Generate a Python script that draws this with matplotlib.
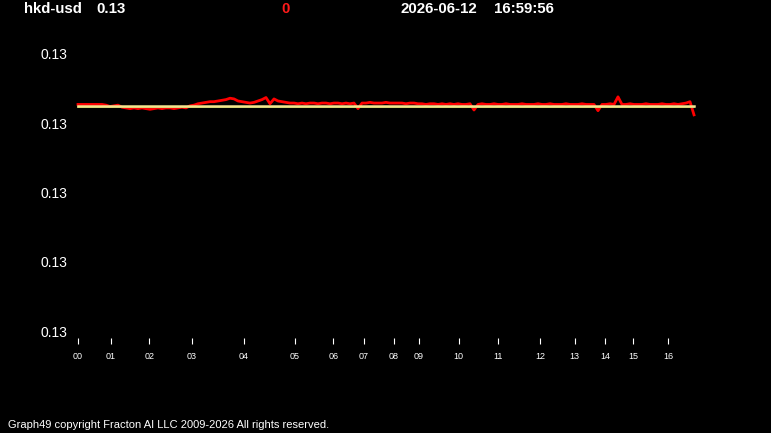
import matplotlib
matplotlib.use("Agg")
import matplotlib.pyplot as plt
from matplotlib.ticker import FormatStrFormatter
import numpy as np

# header info
symbol = "hkd-usd"
last_price = "0.13"
change = "0"
stamp_date = "2026-06-12"
stamp_time = "16:59:56"

# red price trace, one sample per slot
prices = [
    0.127727, 0.127727, 0.127727, 0.127727, 0.127727, 0.127727, 0.127727,  # 78-102
    0.127726, 0.127724, 0.127725, 0.127726, 0.127723,                      # 106-122
    0.127722, 0.127721, 0.127722, 0.127721, 0.127722, 0.127721, 0.127720, 0.127721,
    0.127722, 0.127721, 0.127722, 0.127722, 0.127721, 0.127722, 0.127723, 0.127722,  # 126-186
    0.127725, 0.127726, 0.127728, 0.127729, 0.127730, 0.127731, 0.127731, 0.127732,
    0.127733, 0.127734, 0.127736,                                          # 190-230
    0.127735, 0.127732, 0.127731, 0.127730, 0.127729, 0.127730, 0.127732, 0.127734,  # 234-262
    0.127737, 0.127728, 0.127735, 0.127732, 0.127731, 0.127730, 0.127729,  # 266-290
    0.127729, 0.127728, 0.127729, 0.127728, 0.127729, 0.127729, 0.127728, 0.127729,
    0.127729, 0.127728, 0.127729, 0.127729, 0.127728, 0.127729, 0.127728, 0.127729,  # 294-354
    0.127721,                                                              # 358
    0.127729, 0.127729, 0.127730, 0.127729, 0.127729, 0.127729, 0.127730, 0.127729,
    0.127729, 0.127729, 0.127729, 0.127728, 0.127729, 0.127729, 0.127728,  # 362-418
    0.127728, 0.127727, 0.127728, 0.127728, 0.127727, 0.127728, 0.127727, 0.127728,
    0.127727, 0.127728, 0.127727, 0.127727, 0.127728,                      # 422-470
    0.127719,                                                              # 474
    0.127727, 0.127728, 0.127727, 0.127727, 0.127728, 0.127727, 0.127727, 0.127728,
    0.127727, 0.127727, 0.127727, 0.127728, 0.127727, 0.127727, 0.127727, 0.127728,
    0.127727, 0.127727, 0.127728, 0.127727, 0.127727, 0.127727, 0.127728, 0.127727,
    0.127727, 0.127727, 0.127728, 0.127727, 0.127727, 0.127727,            # 478-594
    0.127718,                                                              # 598
    0.127727, 0.127727, 0.127728, 0.127727,                                # 602-614
    0.127738,                                                              # 618
    0.127727, 0.127727, 0.127728, 0.127727, 0.127727, 0.127727, 0.127728, 0.127727,
    0.127727, 0.127727, 0.127728, 0.127727, 0.127727, 0.127728, 0.127727, 0.127728,  # 622-682
    0.127729, 0.127731, 0.127712,                                          # 686-694
]

# flat average lines
avg_level = 0.127725
base_level = 0.1277238

# hour labels and the sample slot they sit at
hour_labels = ["00", "01", "02", "03", "04", "05", "06", "07", "08",
               "09", "10", "11", "12", "13", "14", "15", "16"]
hour_pos = [0, 8.2, 17.8, 28.5, 41.5, 54.2, 63.8, 71.5, 79,
            85.2, 95.2, 105, 115.5, 124.2, 131.8, 138.8, 147.5]

y_ticks = [0.1274, 0.1275, 0.1276, 0.1277, 0.1278]

W, H = 771, 433
fig = plt.figure(figsize=(W / 100, H / 100), dpi=100, facecolor="black")
ax = fig.add_axes([70 / W, (H - 338) / H, 640 / W, 298 / H], facecolor="black")

x = np.arange(len(prices))
ax.plot(x, prices, color="#ff0000", lw=2.0, zorder=2)
ax.plot([x[0], x[-1]], [base_level, base_level], color="#8cc43c", lw=1.2, zorder=3)
ax.plot([x[0], x[-1]], [avg_level, avg_level], color="#f4e48e", lw=1.8, zorder=4)

ax.set_xlim(-2, 158)
ax.set_ylim(0.127390, 0.127820)
for s in ax.spines.values():
    s.set_visible(False)

ax.set_yticks(y_ticks)
ax.yaxis.set_major_formatter(FormatStrFormatter("%.2f"))
ax.tick_params(axis="y", length=0, pad=2, labelsize=10, labelcolor="white")
ax.set_xticks(hour_pos)
ax.set_xticklabels(hour_labels)
ax.tick_params(axis="x", length=4, width=0.8, color="white", pad=6,
               labelsize=6.5, labelcolor="white")
for lab in ax.get_yticklabels() + ax.get_xticklabels():
    lab.set_family("Liberation Sans")

def px(xp, yp):
    return xp / W, 1 - yp / H

hdr = dict(fontsize=10.8, fontweight="bold", family="Liberation Sans", va="center")
fig.text(*px(24, 9), symbol, color="white", ha="left", **hdr)
fig.text(*px(96, 9), last_price, color="white", ha="left", **hdr)
fig.text(*px(286, 9), change, color="#ff1a1a", ha="center", **hdr)
fig.text(*px(400, 9), stamp_date, color="white", ha="left", **hdr)
fig.text(*px(494, 9), stamp_time, color="white", ha="left", **hdr)

fig.text(*px(8, 425), "Graph49 copyright Fracton AI LLC 2009-2026 All rights reserved.",
         color="white", fontsize=8, family="Liberation Sans", ha="left", va="center")

fig.savefig("out.png", dpi=100, facecolor="black")
